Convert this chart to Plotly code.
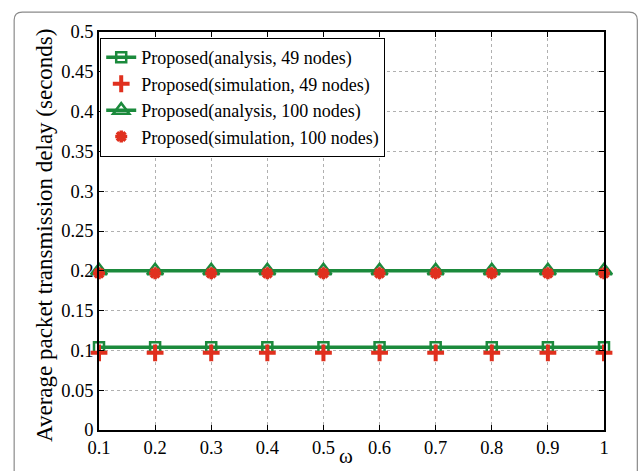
import plotly.graph_objects as go

omega = [0.1, 0.2, 0.3, 0.4, 0.5, 0.6, 0.7, 0.8, 0.9, 1.0]
ana49 = [0.104] * 10
sim49 = [0.097] * 10
ana100 = [0.200] * 10
sim100 = [0.197] * 10

xticks = [0.1, 0.2, 0.3, 0.4, 0.5, 0.6, 0.7, 0.8, 0.9, 1.0]
xticktext = ["0.1", "0.2", "0.3", "0.4", "0.5", "0.6", "0.7", "0.8", "0.9", "1"]
yticks = [0, 0.05, 0.1, 0.15, 0.2, 0.25, 0.3, 0.35, 0.4, 0.45, 0.5]
yticktext = ["0", "0.05", "0.1", "0.15", "0.2", "0.25", "0.3", "0.35", "0.4", "0.45", "0.5"]

GREEN = "#1b8a3c"
RED = "#e0301e"
FONT = "Liberation Serif"

fig = go.Figure()
fig.add_trace(go.Scatter(
    x=omega, y=ana49, mode="lines+markers", name="Proposed(analysis, 49 nodes)",
    line=dict(color=GREEN, width=3.5),
    marker=dict(symbol="square-open", size=10, color=GREEN, line=dict(width=2.5, color=GREEN)),
    cliponaxis=False))
fig.add_trace(go.Scatter(
    x=omega, y=sim49, mode="markers", name="Proposed(simulation, 49 nodes)",
    marker=dict(symbol="cross-thin-open", size=12, color=RED, line=dict(width=4, color=RED)),
    cliponaxis=False))
fig.add_trace(go.Scatter(
    x=omega, y=ana100, mode="lines+markers", name="Proposed(analysis, 100 nodes)",
    line=dict(color=GREEN, width=3.5),
    marker=dict(symbol="triangle-up-open", size=14, color=GREEN, line=dict(width=2.5, color=GREEN)),
    cliponaxis=False))
fig.add_trace(go.Scatter(
    x=omega, y=sim100, mode="markers", name="Proposed(simulation, 100 nodes)",
    marker=dict(symbol="asterisk-open", size=10, color=RED, line=dict(width=3.5, color=RED)),
    cliponaxis=False))

axis_common = dict(
    showline=True, linecolor="black", linewidth=1.5, mirror="ticks",
    ticks="inside", ticklen=5, tickcolor="black", tickwidth=1,
    showgrid=True, gridcolor="#b0b0b0", griddash="dot", gridwidth=1,
    zeroline=False, automargin=False,
    tickfont=dict(family=FONT, size=18.5, color="black"),
)

fig.update_xaxes(range=[0.1, 1.0], tickvals=xticks, ticktext=xticktext, **axis_common)
fig.update_yaxes(range=[0, 0.5], tickvals=yticks, ticktext=yticktext, **axis_common)

fig.update_layout(
    width=639, height=471,
    margin=dict(l=99, r=35, t=32, b=41, autoexpand=False),
    paper_bgcolor="white", plot_bgcolor="white",
    font=dict(family=FONT, color="black"),
    showlegend=True,
    legend=dict(x=0.002, y=0.985, xanchor="left", yanchor="top",
                bgcolor="white", bordercolor="black", borderwidth=1.2,
                font=dict(family=FONT, size=18, color="black"),
                tracegroupgap=0, itemsizing="trace"),
    annotations=[
        dict(text="Average packet transmission delay (seconds)", textangle=-90,
             xref="paper", yref="paper", x=-0.107, y=0.49, xanchor="center", yanchor="middle",
             showarrow=False, font=dict(family=FONT, size=23, color="black")),
        dict(text="ω", xref="paper", yref="paper", x=0.49, y=-0.101,
             xanchor="center", yanchor="bottom",
             showarrow=False, font=dict(family=FONT, size=21, color="black")),
    ],
    shapes=[dict(type="path", xref="paper", yref="paper",
                 path="M -0.168,-0.14 L -0.168,1.03 Q -0.168,1.05 -0.152,1.05 L 1.05,1.05 Q 1.066,1.05 1.066,1.03 L 1.066,-0.14",
                 line=dict(color="#8a8a8a", width=1.2), layer="below")],
)

fig.write_html("out.html")
